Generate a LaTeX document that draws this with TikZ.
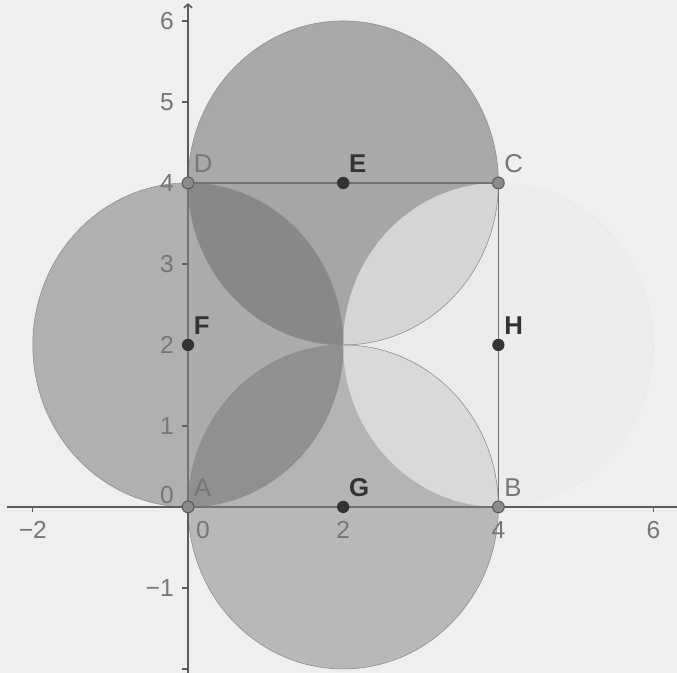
\documentclass[tikz,border=0pt]{standalone}
\usepackage{fontspec}
\setmainfont{Liberation Sans}
\usetikzlibrary{arrows.meta}
\definecolor{bgcol}{HTML}{EFEFEF}
\definecolor{fillcol}{HTML}{666666}
\definecolor{lightcol}{HTML}{ECECEC}
\definecolor{axiscol}{HTML}{5C5C5C}
\definecolor{edgecol}{HTML}{727272}
\definecolor{rimcol}{HTML}{8E8E8E}
\definecolor{freecol}{HTML}{767676}
\definecolor{depcol}{HTML}{333333}
\tikzset{
  freept/.style={circle, fill=freecol!85, draw=axiscol, line width=0.9pt, inner sep=0, minimum size=10pt},
  deppt/.style={circle, fill=depcol, inner sep=0, minimum size=10.5pt},
  ptlabel/.style={anchor=south west, inner sep=0, xshift=0.17cm, yshift=0.3cm, font=\fontsize{22}{26}\selectfont},
  ticklabel/.style={text=freecol, inner sep=0, font=\fontsize{21}{25}\selectfont},
}
\begin{document}
\begin{tikzpicture}[x=2.328cm, y=2.43cm]
  \def\r{2}
  \fill[bgcol] (-2.423,-2.049) rectangle (6.302,6.259);
  \useasboundingbox (-2.423,-2.049) rectangle (6.302,6.259);
  \coordinate (A) at (0,0);
  \coordinate (B) at (4,0);
  \coordinate (C) at (4,4);
  \coordinate (D) at (0,4);
  \coordinate (E) at (2,4);
  \coordinate (F) at (0,2);
  \coordinate (G) at (2,0);
  \coordinate (H) at (4,2);
  \fill[fillcol, opacity=0.04] (A) rectangle (C);
  \fill[fillcol, opacity=0.51] (E) circle [radius=\r];
  \fill[fillcol, opacity=0.46] (F) circle [radius=\r];
  \fill[fillcol, opacity=0.40] (G) circle [radius=\r];
  \fill[lightcol, opacity=0.68] (H) circle [radius=\r];
  \draw[rimcol, line width=0.5pt] (E) circle [radius=\r];
  \draw[rimcol, line width=0.5pt] (F) circle [radius=\r];
  \draw[rimcol, line width=0.5pt] (G) circle [radius=\r];
  \draw[black!14, line width=0.5pt, dotted] (H) circle [radius=\r];
  \draw[axiscol, line width=1.4pt] (-2.33,0) -- (6.4,0);
  \draw[axiscol, line width=1.4pt, -{Straight Barb[length=3pt, width=7pt]}] (0,-2.1) -- (0,6.22);
  \foreach \x in {-2,2,4,6}
    \draw[axiscol, line width=1pt] (\x,0) -- ++(0,-0.16cm)
      node[ticklabel, anchor=north, yshift=-0.25cm] {\ifnum\x<0 −\number-\x\else\x\fi};
  \foreach \y in {-2,-1,1,2,...,6}
    \draw[axiscol, line width=1pt] (0,\y) -- ++(-0.17cm,0);
  \foreach \y in {-1,1,2,...,6}
    \node[ticklabel, anchor=east, xshift=-0.42cm] at (0,\y) {\ifnum\y<0 −\number-\y\else\y\fi};
  \node[ticklabel, anchor=east, xshift=-0.42cm, yshift=0.36cm] (yzero) at (A) {0};
  \node[ticklabel, anchor=north, xshift=0.45cm, yshift=-0.41cm] (xzero) at (A) {0};
  \draw[edgecol, line width=1.1pt] (A) -- (B) -- (C) -- (D) -- cycle;
  \node[freept] (ptA) at (A) {};
  \node[freept] (ptB) at (B) {};
  \node[freept] (ptC) at (C) {};
  \node[freept] (ptD) at (D) {};
  \node[deppt] (ptE) at (E) {};
  \node[deppt] (ptF) at (F) {};
  \node[deppt] (ptG) at (G) {};
  \node[deppt] (ptH) at (H) {};
  \node[ptlabel, text=freecol] (labA) at (A) {A};
  \node[ptlabel, text=freecol] (labB) at (B) {B};
  \node[ptlabel, text=freecol] (labC) at (C) {C};
  \node[ptlabel, text=freecol] (labD) at (D) {D};
  \node[ptlabel, text=depcol, font=\fontsize{22}{26}\selectfont\bfseries] (labE) at (E) {E};
  \node[ptlabel, text=depcol, font=\fontsize{22}{26}\selectfont\bfseries] (labF) at (F) {F};
  \node[ptlabel, text=depcol, font=\fontsize{22}{26}\selectfont\bfseries] (labG) at (G) {G};
  \node[ptlabel, text=depcol, font=\fontsize{22}{26}\selectfont\bfseries] (labH) at (H) {H};
\end{tikzpicture}
\end{document}
